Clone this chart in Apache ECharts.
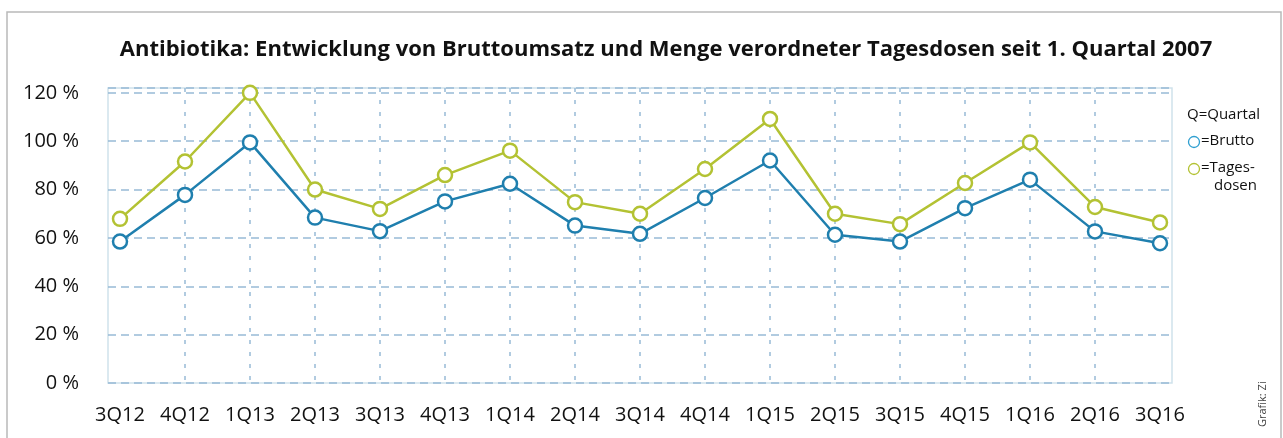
<!DOCTYPE html>
<html>
<head>
<meta charset="utf-8">
<script src="https://cdn.jsdelivr.net/npm/echarts@6/dist/echarts.min.js"></script>
<style>
  html, body { margin: 0; padding: 0; background: #fff; }
  #chart { width: 1283px; height: 438px; }
</style>
</head>
<body>
<div id="chart"></div>
<script>
  // Quartale
  let quartale = ['3Q12', '4Q12', '1Q13', '2Q13', '3Q13', '4Q13', '1Q14', '2Q14', '3Q14',
    '4Q14', '1Q15', '2Q15', '3Q15', '4Q15', '1Q16', '2Q16', '3Q16'];
  // Bruttoumsatz in %
  let brutto = [58.5, 77.8, 99.5, 68.4, 62.8, 75.1, 82.4, 65.1, 61.7,
    76.5, 92, 61.3, 58.5, 72.3, 84.1, 62.7, 57.8];
  // Tagesdosen in %
  let tagesdosen = [67.9, 91.6, 120, 80, 72, 86, 96.1, 74.8, 70,
    88.5, 109.2, 70, 65.7, 82.7, 99.5, 72.8, 66.4];

  let blau = '#1f7fae';
  let gruen = '#b3c233';
  let fontFam = '"Open Sans", "Noto Sans", sans-serif';
  let dashColor = '#98bbd6';

  let chart = echarts.init(document.getElementById('chart'));

  let lineSeries = function(name, data, color) {
    return {
      name: name,
      type: 'line',
      xAxisIndex: 1,
      yAxisIndex: 1,
      data: data,
      symbol: 'circle',
      symbolSize: 14,
      lineStyle: { color: color, width: 2.5 },
      itemStyle: { color: '#fff', borderColor: color, borderWidth: 2.5 },
      z: 5
    };
  };

  chart.setOption({
    animation: false,
    title: {
      text: 'Antibiotika: Entwicklung von Bruttoumsatz und Menge verordneter Tagesdosen seit 1. Quartal 2007',
      left: 661,
      textAlign: 'center',
      top: 34,
      textStyle: { fontFamily: fontFam, fontWeight: 'bold', fontSize: 22, color: '#111' }
    },
    grid: [
      // Rahmen
      {
        left: 108, right: 111, top: 88, bottom: 55,
        show: true, borderColor: '#cfe2ec', borderWidth: 1.5, backgroundColor: 'transparent'
      },
      // Daten
      { left: 120, right: 123, top: 88, bottom: 55 }
    ],
    xAxis: [
      { gridIndex: 0, type: 'value', show: false },
      {
        gridIndex: 1,
        type: 'category',
        boundaryGap: false,
        data: quartale,
        axisLine: { show: false },
        axisTick: { show: false },
        axisLabel: {
          fontFamily: fontFam, fontSize: 20, color: '#111',
          margin: 22, verticalAlign: 'top'
        },
        splitLine: {
          show: true,
          interval: function(i) { return i > 0 && i < quartale.length - 1; },
          lineStyle: { color: dashColor, type: [4, 8], width: 1.5 }
        }
      }
    ],
    yAxis: [
      {
        gridIndex: 0,
        type: 'value',
        min: 0,
        max: 122,
        interval: 20,
        axisLine: { show: false },
        axisTick: { show: false },
        axisLabel: {
          showMaxLabel: false,
          formatter: '{value} %',
          fontFamily: fontFam,
          fontSize: 20,
          color: '#111',
          margin: 29
        },
        splitLine: { lineStyle: { color: dashColor, type: [8, 5], width: 1.5 } }
      },
      { gridIndex: 1, type: 'value', min: 0, max: 122, show: false }
    ],
    series: [
      lineSeries('Tagesdosen', tagesdosen, gruen),
      lineSeries('Brutto', brutto, blau)
    ],
    graphic: [
      {
        type: 'rect',
        shape: { x: 7, y: 12, width: 1274, height: 440 },
        style: { fill: 'none', stroke: '#b9b9b9', lineWidth: 1.5 },
        silent: true
      },
      {
        type: 'text', left: 1187, top: 107,
        style: { text: 'Q=Quartal', fontFamily: fontFam, fontSize: 15, fill: '#111' }
      },
      {
        type: 'circle', shape: { cx: 1194, cy: 142, r: 5.5 },
        style: { fill: '#fff', stroke: '#2f9fd0', lineWidth: 1.3 }
      },
      {
        type: 'text', left: 1201, top: 133,
        style: { text: '=Brutto', fontFamily: fontFam, fontSize: 15, fill: '#111' }
      },
      {
        type: 'circle', shape: { cx: 1194, cy: 169, r: 5.5 },
        style: { fill: '#fff', stroke: gruen, lineWidth: 1.3 }
      },
      {
        type: 'text', left: 1201, top: 160,
        style: { text: '=Tages-', fontFamily: fontFam, fontSize: 15, fill: '#111' }
      },
      {
        type: 'text', left: 1214, top: 178,
        style: { text: 'dosen', fontFamily: fontFam, fontSize: 15, fill: '#111' }
      },
      {
        type: 'text',
        x: 1257, y: 427,
        rotation: Math.PI / 2,
        style: { text: 'Grafik: Zi', fontFamily: fontFam, fontSize: 11, fill: '#444' }
      }
    ]
  });
</script>
</body>
</html>
